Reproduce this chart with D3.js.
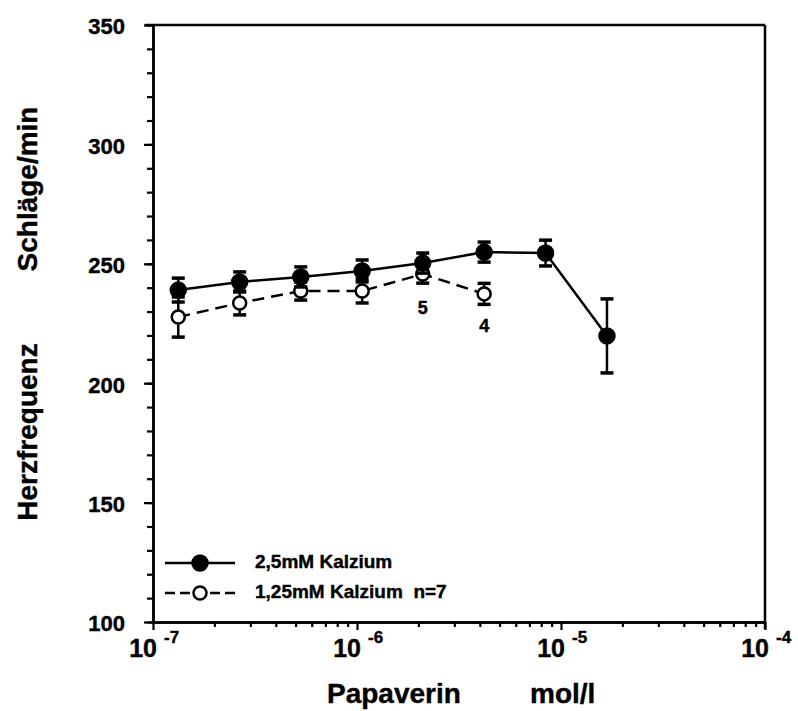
<!DOCTYPE html>
<html>
<head>
<meta charset="utf-8">
<script src="https://cdnjs.cloudflare.com/ajax/libs/d3/7.8.5/d3.min.js"></script>
<style>
  body { margin: 0; background: #fff; }
  svg text { font-family: "Liberation Sans", Arial, Helvetica, sans-serif; font-weight: bold; fill: #000; stroke: #000; stroke-width: 0.4px; }
</style>
</head>
<body>
<div class="main"></div>
<script>
// data
var conc = [1.33e-7, 2.66e-7, 5.3e-7, 1.06e-6, 2.1e-6, 4.2e-6, 8.4e-6, 1.68e-5];
var ca25 = [239.0, 242.4, 244.5, 247.0, 250.3, 254.9, 254.5, 219.8];
var ca25Err = [5.0, 4.2, 4.2, 4.6, 4.2, 4.2, 5.4, 15.5];
var ca125 = [227.7, 233.6, 238.6, 238.6, 245.7, 237.4];
var ca125Err = [8.4, 5.0, 3.8, 5.0, 3.8, 4.4];
var nLabels = [{i: 4, text: "5", dy: 40}, {i: 5, text: "4", dy: 38}];
var yTicks = [100, 150, 200, 250, 300, 350];
var xDecades = [1e-7, 1e-6, 1e-5, 1e-4];
var xExponents = ["-7", "-6", "-5", "-4"];
var legendLabels = ["2,5mM Kalzium", "1,25mM Kalzium  n=7"];

let width = 798, height = 711;

let svg = d3.select("div.main").append("svg")
    .attr("width", width)
    .attr("height", height);

var x = d3.scaleLog().domain([1e-7, 1e-4]).range([153, 765]);
var y = d3.scaleLinear().domain([100, 350]).range([622, 25]);

// frame top + right
svg.append("line")
    .attr("x1", x.range()[0] - 8).attr("x2", x.range()[1])
    .attr("y1", y(350)).attr("y2", y(350))
    .attr("stroke", "#000").attr("stroke-width", 2.5);
svg.append("line")
    .attr("x1", x.range()[1]).attr("x2", x.range()[1])
    .attr("y1", y(350)).attr("y2", y(100) + 7)
    .attr("stroke", "#000").attr("stroke-width", 2.5);

// y axis: minor ticks every 10, major every 50
var yMinor = svg.append("g")
    .attr("transform", "translate(" + x.range()[0] + ",0)")
    .call(d3.axisLeft(y).tickValues(d3.range(100, 351, 10)).tickSize(6).tickSizeOuter(0).tickFormat(""));
var yAxis = svg.append("g")
    .attr("transform", "translate(" + x.range()[0] + ",0)")
    .call(d3.axisLeft(y).tickValues(yTicks).tickSize(9).tickSizeOuter(0).tickPadding(19));
yAxis.selectAll("text").style("font-size", "22px").attr("dy", "0.4em");

// x axis: minor ticks 2..9 per decade
var minorX = [];
for (var d = 0; d < 3; d++) {
    for (var k = 2; k <= 9; k++) minorX.push(k * xDecades[d]);
}
var xMinor = svg.append("g")
    .attr("transform", "translate(0," + y.range()[0] + ")")
    .call(d3.axisBottom(x).tickValues(minorX).tickSize(5).tickSizeOuter(0).tickFormat(""));
var xAxis = svg.append("g")
    .attr("transform", "translate(0," + y.range()[0] + ")")
    .call(d3.axisBottom(x).tickValues(xDecades).tickSize(8).tickSizeOuter(0).tickFormat(""));

svg.selectAll(".domain").attr("stroke-width", 2.5).attr("stroke", "#000");
svg.selectAll(".tick line").attr("stroke-width", 2.2).attr("stroke", "#000");

// decade labels 10^n
var xLab = svg.append("g").selectAll("g")
    .data(xDecades)
    .enter().append("g");
xLab.append("text")
    .attr("x", function(d) { return x(d) + 4; })
    .attr("y", 657)
    .attr("text-anchor", "end")
    .style("font-size", "25px")
    .text("10");
xLab.append("text")
    .attr("x", function(d) { return x(d) + 11; })
    .attr("y", 643)
    .style("font-size", "17px")
    .text(function(d, i) { return xExponents[i]; });

// axis titles
svg.append("text").attr("x", 327).attr("y", 703).style("font-size", "28px").text("Papaverin");
svg.append("text").attr("x", 530).attr("y", 703).style("font-size", "28px").text("mol/l");
svg.append("text")
    .attr("transform", "translate(37,189) rotate(-90)")
    .attr("text-anchor", "middle")
    .style("font-size", "28px")
    .text("Schläge/min");
svg.append("text")
    .attr("transform", "translate(37,432) rotate(-90)")
    .attr("text-anchor", "middle")
    .style("font-size", "28px")
    .text("Herzfrequenz");

var line = d3.line()
    .x(function(d) { return x(d[0]); })
    .y(function(d) { return y(d[1]); });

function drawSeries(vals, errs, filled, dash) {
    var pts = vals.map(function(v, i) { return [conc[i], v, errs[i]]; });
    var g = svg.append("g");
    g.append("path")
        .datum(pts)
        .attr("d", line)
        .attr("fill", "none")
        .attr("stroke", "#000")
        .attr("stroke-width", 2.5)
        .attr("stroke-dasharray", dash);
    // error bars
    var eb = g.selectAll("g.err").data(pts).enter().append("g").attr("class", "err");
    eb.append("line")
        .attr("x1", function(d) { return x(d[0]); })
        .attr("x2", function(d) { return x(d[0]); })
        .attr("y1", function(d) { return y(d[1] - d[2]); })
        .attr("y2", function(d) { return y(d[1] + d[2]); })
        .attr("stroke", "#000").attr("stroke-width", 2.5);
    [-1, 1].forEach(function(s) {
        eb.append("line")
            .attr("x1", function(d) { return x(d[0]) - 6.5; })
            .attr("x2", function(d) { return x(d[0]) + 6.5; })
            .attr("y1", function(d) { return y(d[1] + s * d[2]); })
            .attr("y2", function(d) { return y(d[1] + s * d[2]); })
            .attr("stroke", "#000").attr("stroke-width", 3.5);
    });
    g.selectAll("circle").data(pts).enter().append("circle")
        .attr("cx", function(d) { return x(d[0]); })
        .attr("cy", function(d) { return y(d[1]); })
        .attr("r", filled ? 7.5 : 6.5)
        .attr("fill", filled ? "#000" : "#fff")
        .attr("stroke", "#000")
        .attr("stroke-width", 2.5);
}

drawSeries(ca125, ca125Err, false, "12,7");
drawSeries(ca25, ca25Err, true, null);

// n labels under open points
svg.selectAll("text.n").data(nLabels).enter().append("text")
    .attr("class", "n")
    .attr("x", function(d) { return x(conc[d.i]); })
    .attr("y", function(d) { return y(ca125[d.i]) + d.dy; })
    .attr("text-anchor", "middle")
    .style("font-size", "18px")
    .text(function(d) { return d.text; });

// legend
var legend = svg.append("g").selectAll("g")
    .data(legendLabels)
    .enter().append("g")
    .attr("transform", function(d, i) { return "translate(165," + (563 + i * 30) + ")"; });
legend.append("line")
    .attr("x1", 0).attr("x2", 70)
    .attr("stroke", "#000").attr("stroke-width", 2.5)
    .attr("stroke-dasharray", function(d, i) { return i ? "10,5" : null; });
legend.append("circle")
    .attr("cx", 35).attr("r", function(d, i) { return i ? 6.5 : 7.5; })
    .attr("fill", function(d, i) { return i ? "#fff" : "#000"; })
    .attr("stroke", "#000").attr("stroke-width", 2.5);
legend.append("text")
    .attr("x", 90).attr("y", 5)
    .style("font-size", "19px")
    .style("white-space", "pre")
    .text(function(d) { return d; });
</script>
</body>
</html>
